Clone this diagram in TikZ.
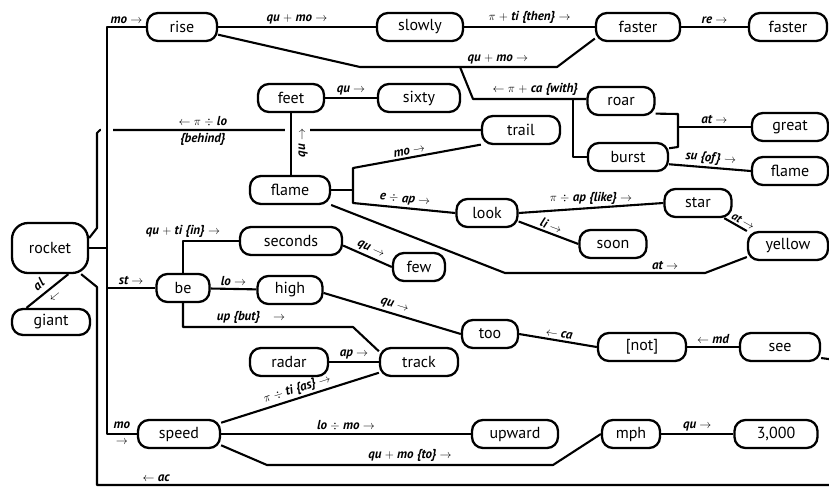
\documentclass[tikz,border=0pt]{standalone}
\usepackage{fontspec}
\setmainfont{PT Sans}
\usetikzlibrary{calc}
\pgfdeclarelayer{front}
\pgfsetlayers{main,front}

\begin{document}
\begin{tikzpicture}[x=1pt, y=-1pt,
    wire/.style={draw=black, line width=2.1pt, line join=round},
    word/.style={draw, line width=2.3pt, rounded corners=11pt, minimum height=28pt, inner sep=2pt, font=\fontsize{16}{18}\selectfont},
    rel/.style={font=\bfseries\itshape\fontsize{13}{15}\selectfont, inner sep=2pt},
    halo/.style={preaction={draw=white, line width=12pt}}]

    \useasboundingbox (0,0) rectangle (829,488);

    % the words
    \begin{pgfonlayer}{front}
    \foreach \n/\x/\y/\w/\t in {
        rise/182/27/70/rise, slowly/420/27/86/slowly, fasterA/638/27/84/faster, fasterB/788/27/78/faster,
        feet/291/98/66/feet, sixty/419/98/82/sixty, trail/521/130/78/trail,
        roar/621/101/67/roar, great/790/127/76/great, burst/628/157/80/burst, flameB/790/171/76/flame,
        flameA/290/190/80/flame, look/487/213/61/look, star/698/203/67/star, soon/613/244/67/soon, yellow/788/246/80/yellow,
        seconds/291/241/102/seconds, few/419/267/52/few, be/183/288/53/be, high/290/290/65/high,
        too/490/334/56/too, not/642/347/88/{[not]}, see/780/347/80/see,
        radar/289/362/78/radar, track/419/362/78/track,
        speed/179/434/82/speed, upward/515/434/86/upward, mph/631/434/58/mph}{
        \node[word, minimum width=\w pt] (\n) at (\x,\y) {\t};
    }
    \node[word, minimum width=83pt] (num) at (776,434) {3,000};
    \node[word, minimum width=76pt, minimum height=50pt, rounded corners=16pt] (rocket) at (50,248) {rocket};
    \node[word, minimum width=78pt, minimum height=26pt] (giant) at (51,322) {giant};
    \end{pgfonlayer}

    \coordinate (trunk) at (107,248);
    \coordinate (withJ) at (460,67);
    \coordinate (greatJ) at (678,127);

    % top row
    \draw[wire] (rise) -- node[rel, above]{qu $+$ mo $\rightarrow$} (slowly);
    \draw[wire] (slowly) -- node[rel, above]{$\pi$ $+$ ti \{then\} $\rightarrow$} (fasterA);
    \draw[wire] (fasterA) -- node[rel, above]{re $\rightarrow$} (fasterB);
    \draw[wire] (rise.-12) -- (360,67) -- node[rel, above, pos=0.7]{qu $+$ mo $\rightarrow$} (557,67) -- (fasterA.195);
    \draw[wire] (withJ) -- (473,99) -- node[rel, above, pos=0.55]{$\leftarrow$ $\pi$ $+$ ca \{with\}} (roar.west |- 0,99);
    \draw[wire] (573,99) |- (burst.west);
    \draw[wire] (roar.-20) -- (678,114) -- (678,147) -- (burst.12);
    \draw[wire] (greatJ) -- node[rel, above]{at $\rightarrow$} (great.west);
    \draw[wire] (burst.-10) -- node[rel, above, sloped]{su \{of\} $\rightarrow$} (flameB.west);
    \draw[wire] (feet) -- node[rel, above]{qu $\rightarrow$} (sixty);

    % behind, then the trunk over it
    \draw[wire] (trail.west) -- node[rel, above, pos=0.73]{$\leftarrow$ $\pi$ $\div$ lo} node[rel, below, pos=0.73]{\{behind\}} (100,130) -- (97,133) -- (97,228) -- ([yshift=10pt]rocket.east);
    \draw[wire, halo] (rise.west) -- node[rel, above]{mo $\rightarrow$} (rise.west -| trunk) -- (speed.west -| trunk) -- node[rel, above=2pt]{mo} node[rel, below=3pt]{$\rightarrow$} (speed.west);
    \draw[wire] (rocket.east) -- (trunk);
    \draw[wire] (be.west -| trunk) -- node[rel, above]{st $\rightarrow$} (be.west);
    \draw[wire, halo] (feet.south) -- (feet.south |- flameA.north);
    \node[rel, rotate=90, fill=white] (quUp) at (303,143) {qu $\rightarrow$};

    % flame
    \draw[wire] (flameA.east) -- (353,190);
    \draw[wire] (trail.200) -- node[rel, above, sloped, pos=0.55]{mo $\rightarrow$} (353,168) -- (353,203) -- node[rel, above, sloped]{e $\div$ ap $\rightarrow$} (look.west);
    \draw[wire] (flameA.-20) -- (505,273) -- node[rel, above, pos=0.8]{at $\rightarrow$} (705,273) -- (yellow.195);
    \draw[wire] (look.east) -- node[rel, above]{$\pi$ $\div$ ap \{like\} $\rightarrow$} (star.west);
    \draw[wire] (look.-15) -- node[rel, above, sloped]{li $\rightarrow$} (soon.west);
    \draw[wire] (star.-30) -- node[rel, above=1pt, sloped, pos=0.7, inner sep=0.5pt, font=\bfseries\itshape\fontsize{11.5}{13}\selectfont]{at $\rightarrow$} (yellow.160);

    % be
    \draw[wire] (be.north) |- node[rel, above]{qu $+$ ti \{in\} $\rightarrow$} (seconds.west);
    \draw[wire] (be) -- node[rel, above]{lo $\rightarrow$} (high);
    \draw[wire] (be.south) |- node[rel, above, pos=0.7]{up \{but\}\quad$\rightarrow$} (353,327) -- (track.165);
    \draw[wire] (seconds.-5) -- node[rel, above, sloped, pos=0.5]{qu $\rightarrow$} (few.west);
    \draw[wire] (high.-5) -- node[rel, above, sloped]{qu $\rightarrow$} (too.west);
    \draw[wire] (too.east) -- node[rel, above, sloped]{$\leftarrow$ ca} (not.west);
    \draw[wire] (not) -- node[rel, above]{$\leftarrow$ md} (see);
    \draw[wire] (radar) -- node[rel, above]{ap $\rightarrow$} (track);

    % speed
    \draw[wire] (speed.15) -- node[rel, above, sloped]{$\pi$ $\div$ ti \{as\} $\rightarrow$} (track.195);
    \draw[wire] (speed) -- node[rel, above]{lo $\div$ mo $\rightarrow$} (upward);
    \draw[wire] (speed.-15) -- (267,465) -- node[rel, above]{qu $+$ mo \{to\} $\rightarrow$} (553,465) -- (mph.west);
    \draw[wire] (mph) -- node[rel, above]{qu $\rightarrow$} (num);

    % rocket
    \draw[wire] (rocket.-55) -- node[rel, above, sloped, pos=0.55, inner sep=5pt]{al} node[rel, below, sloped, pos=0.45, inner sep=6pt]{$\leftarrow$} (giant.150);
    \draw[wire] (see.-15) -- (836,360) -- (836,485) -- node[rel, above, pos=0.92]{$\leftarrow$ ac} (97,485) -- (97,287) -- ([xshift=-8pt]rocket.south east);

\end{tikzpicture}
\end{document}
